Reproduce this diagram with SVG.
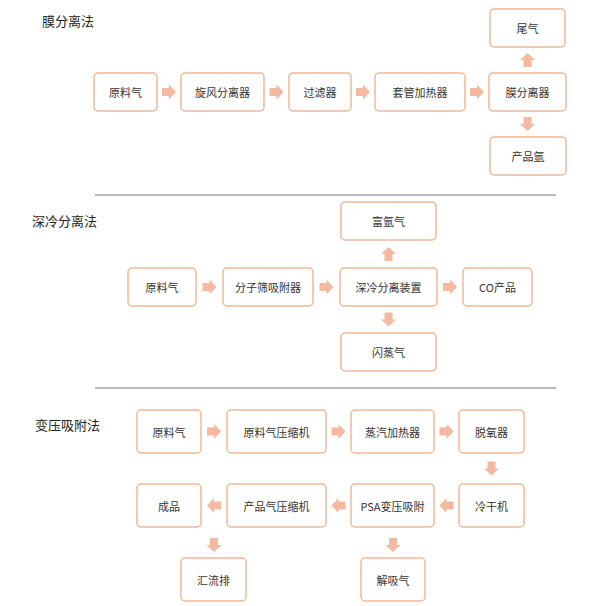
<svg xmlns="http://www.w3.org/2000/svg" width="600" height="606" viewBox="0 0 600 606">
<style>
.b{fill:#fff;stroke:#f2b896;stroke-width:1.5}
.t{font-family:"Noto Sans CJK SC","Liberation Sans",sans-serif;font-size:11px;fill:#333;text-anchor:middle;dominant-baseline:central}
.h{font-family:"Noto Sans CJK SC",sans-serif;font-size:13px;fill:#222}
.a{fill:#f4b9a0}
.l{stroke:#777;stroke-width:1}
</style>
<defs><path id="ar" class="a" d="M-7,-4 H0 V-7.5 L7,0 L0,7.5 V4 H-7 Z"/></defs>
<rect width="600" height="606" fill="#fff"/>
<text class="h" x="42" y="26">膜分离法</text>
<text class="h" x="32" y="226">深冷分离法</text>
<text class="h" x="35" y="430">变压吸附法</text>
<line class="l" x1="95" y1="195" x2="556" y2="195"/>
<line class="l" x1="95" y1="388" x2="556" y2="388"/>
<g id="n1"><rect class="b" x="94" y="73" width="63" height="38" rx="4"/><text class="t" x="125.5" y="92">原料气</text></g>
<g id="n2"><rect class="b" x="181" y="73" width="83" height="38" rx="4"/><text class="t" x="222.5" y="92">旋风分离器</text></g>
<g id="n3"><rect class="b" x="289" y="73" width="62" height="38" rx="4"/><text class="t" x="320" y="92">过滤器</text></g>
<g id="n4"><rect class="b" x="375" y="73" width="90" height="38" rx="4"/><text class="t" x="420" y="92">套管加热器</text></g>
<g id="n5"><rect class="b" x="489" y="73" width="77" height="38" rx="4"/><text class="t" x="527.5" y="92">膜分离器</text></g>
<g id="n6"><rect class="b" x="490" y="9" width="75" height="38" rx="4"/><text class="t" x="527.5" y="28">尾气</text></g>
<g id="n7"><rect class="b" x="490" y="137" width="76" height="38" rx="4"/><text class="t" x="528" y="156">产品氩</text></g>
<g id="m1"><rect class="b" x="128" y="268" width="68" height="38" rx="4"/><text class="t" x="162" y="287">原料气</text></g>
<g id="m2"><rect class="b" x="223" y="268" width="90" height="38" rx="4"/><text class="t" x="268" y="287">分子筛吸附器</text></g>
<g id="m3"><rect class="b" x="340" y="268" width="97" height="38" rx="4"/><text class="t" x="388.5" y="287">深冷分离装置</text></g>
<g id="m4"><rect class="b" x="463" y="268" width="69" height="38" rx="4"/><text class="t" x="497.5" y="287">CO产品</text></g>
<g id="m5"><rect class="b" x="341" y="202" width="95" height="38" rx="4"/><text class="t" x="388.5" y="221">富氩气</text></g>
<g id="m6"><rect class="b" x="341" y="333" width="95" height="38" rx="4"/><text class="t" x="388.5" y="352">闪蒸气</text></g>
<g id="p1"><rect class="b" x="137" y="410" width="64" height="43" rx="4"/><text class="t" x="169" y="431.5">原料气</text></g>
<g id="p2"><rect class="b" x="227" y="410" width="99" height="43" rx="4"/><text class="t" x="276.5" y="431.5">原料气压缩机</text></g>
<g id="p3"><rect class="b" x="351" y="410" width="83" height="43" rx="4"/><text class="t" x="392.5" y="431.5">蒸汽加热器</text></g>
<g id="p4"><rect class="b" x="459" y="410" width="65" height="43" rx="4"/><text class="t" x="491.5" y="431.5">脱氧器</text></g>
<g id="p5"><rect class="b" x="459" y="484" width="65" height="43" rx="4"/><text class="t" x="491.5" y="505.5">冷干机</text></g>
<g id="p6"><rect class="b" x="351" y="484" width="83" height="43" rx="4"/><text class="t" x="392.5" y="505.5">PSA变压吸附</text></g>
<g id="p7"><rect class="b" x="227" y="484" width="99" height="43" rx="4"/><text class="t" x="276.5" y="505.5">产品气压缩机</text></g>
<g id="p8"><rect class="b" x="137" y="484" width="64" height="43" rx="4"/><text class="t" x="169" y="505.5">成品</text></g>
<g id="p9"><rect class="b" x="181" y="558" width="65" height="43" rx="4"/><text class="t" x="213.5" y="579.5">汇流排</text></g>
<g id="p10"><rect class="b" x="361" y="558" width="64" height="43" rx="4"/><text class="t" x="393" y="579.5">解吸气</text></g>
<g id="connectors">
<use href="#ar" transform="translate(169,92)"/>
<use href="#ar" transform="translate(276.5,92)"/>
<use href="#ar" transform="translate(363,92)"/>
<use href="#ar" transform="translate(477,92)"/>
<use href="#ar" transform="translate(527.5,60) rotate(-90)"/>
<use href="#ar" transform="translate(527.5,124) rotate(90)"/>
<use href="#ar" transform="translate(209.5,287)"/>
<use href="#ar" transform="translate(326.5,287)"/>
<use href="#ar" transform="translate(450,287)"/>
<use href="#ar" transform="translate(388.5,254) rotate(-90)"/>
<use href="#ar" transform="translate(388.5,319.5) rotate(90)"/>
<use href="#ar" transform="translate(214,431.5)"/>
<use href="#ar" transform="translate(338.5,431.5)"/>
<use href="#ar" transform="translate(446.5,431.5)"/>
<use href="#ar" transform="translate(491.5,468.5) rotate(90)"/>
<use href="#ar" transform="translate(446.5,505.5) rotate(180)"/>
<use href="#ar" transform="translate(338.5,505.5) rotate(180)"/>
<use href="#ar" transform="translate(214,505.5) rotate(180)"/>
<use href="#ar" transform="translate(214,545) rotate(90)"/>
<use href="#ar" transform="translate(393,545) rotate(90)"/>
</g>
</svg>
